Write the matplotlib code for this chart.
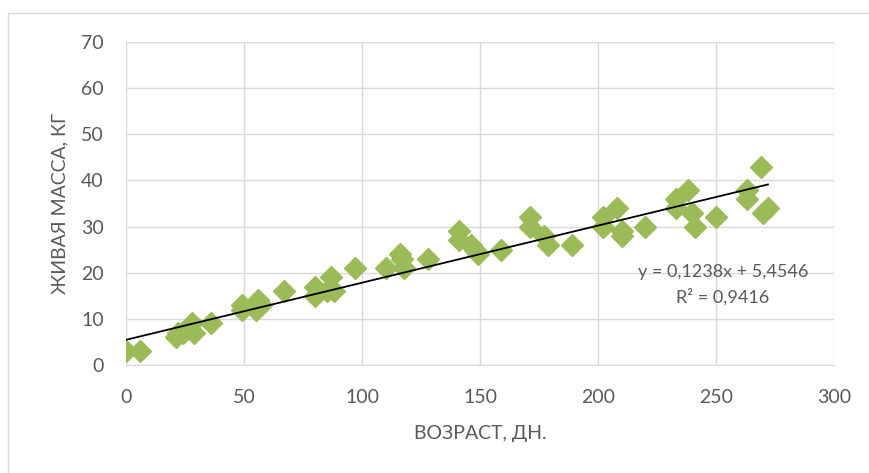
import numpy as np
import matplotlib
matplotlib.use('Agg')
import matplotlib.pyplot as plt
from matplotlib.patches import Rectangle

# age, days / live weight, kg
age = [0, 6, 21, 22, 24, 28, 29, 36, 49, 49, 55, 56, 57, 67, 80, 80, 85, 87, 88, 97,
       110, 116, 117, 118, 128, 141, 141, 146, 148, 149, 159, 171, 171, 177, 179, 189,
       202, 202, 208, 210, 210, 220, 233, 233, 238, 240, 241, 250, 263, 263, 269, 270, 272]
mass = [3, 3, 6, 7, 7, 9, 7, 9, 13, 12, 12, 14, 13, 16, 17, 15, 16, 19, 16, 21,
        21, 24, 23, 21, 23, 29, 27, 26, 25, 24, 25, 32, 30, 28, 26, 26,
        32, 30, 34, 28, 29, 30, 36, 34, 38, 33, 30, 32, 38, 36, 43, 33, 34]
slope = 0.1238
intercept = 5.4546
r2 = 0.9416

plt.rcParams['font.family'] = ['Lato', 'DejaVu Sans']
grey = '#595959'

fig = plt.figure(figsize=(8.69, 4.73), dpi=100)
fig.patches.append(Rectangle((8 / 869, -0.1), 1.0, 1 - 13 / 473 + 0.1, transform=fig.transFigure,
                             fill=False, edgecolor='#D9D9D9', lw=1))
ax = fig.add_axes([126 / 869, 1 - 365 / 473, (834 - 126) / 869, (365 - 42) / 473])

ax.plot(age, mass, linestyle='none', marker='D', markersize=11, color='#9BBB59', zorder=3)
xs = np.array([0, max(age)])
ax.plot(xs, slope * xs + intercept, color='black', lw=1.3, zorder=4)

ax.set_xlim(0, 300)
ax.set_ylim(0, 70)
ax.set_xticks(range(0, 301, 50))
ax.set_yticks(range(0, 71, 10))
ax.grid(True, color='#D9D9D9', lw=1)
ax.set_axisbelow(True)
for s in ['top', 'right', 'left']:
    ax.spines[s].set_visible(False)
ax.spines['bottom'].set_color('#D9D9D9')
ax.tick_params(length=0, labelsize=14, labelcolor=grey)
ax.tick_params(axis='x', pad=17)
ax.tick_params(axis='y', pad=16)

ax.set_xlabel('ВОЗРАСТ, ДН.', fontsize=14, color=grey, labelpad=14)
ax.set_ylabel('ЖИВАЯ МАССА, КГ', fontsize=14, color=grey, labelpad=9)

eq = 'y = %s' % ('%.4fx + %.4f' % (slope, intercept)).replace('.', ',')
ax.text(0.843, 0.288, eq, transform=ax.transAxes, ha='center', va='center', fontsize=13, color=grey)
ax.text(0.843, 0.2105, 'R² = ' + ('%.4f' % r2).replace('.', ','), transform=ax.transAxes,
        ha='center', va='center', fontsize=13, color=grey)

fig.savefig('out.png', dpi=100)
